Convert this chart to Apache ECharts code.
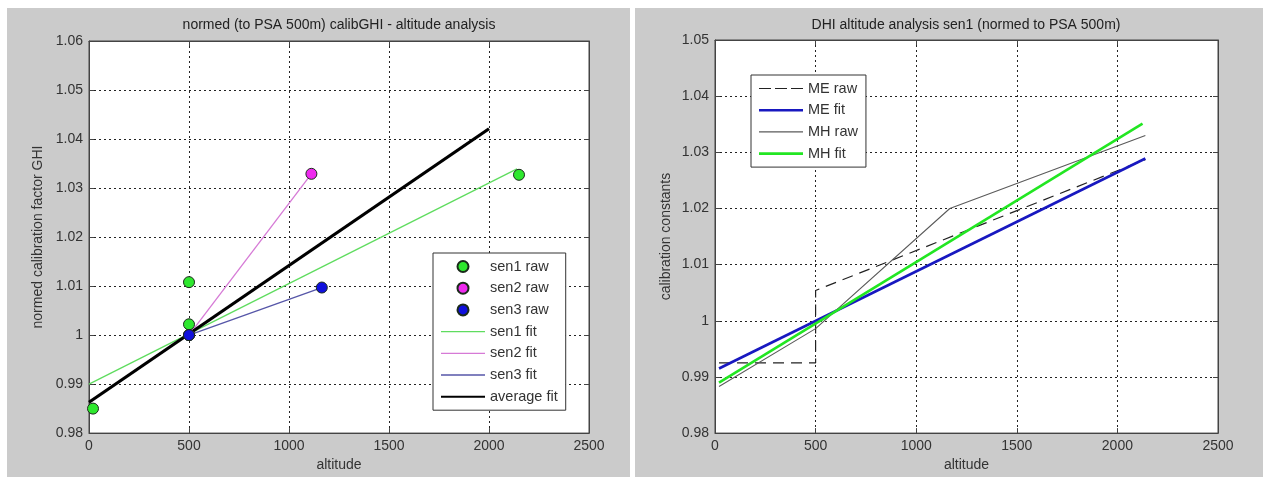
<!DOCTYPE html>
<html>
<head>
<meta charset="utf-8">
<title>altitude analysis</title>
<script src="https://cdn.jsdelivr.net/npm/echarts@6/dist/echarts.min.js"></script>
<style>
body { margin: 0; background: #fff; }
#wrap { position: relative; width: 1263px; height: 477px; }
.panel { position: absolute; background: #cbcbcb; }
#chart { position: absolute; left: 0; top: 0; width: 1263px; height: 477px; }
</style>
</head>
<body>
<div id="wrap">
  <div class="panel" style="left:7px;top:8px;width:623px;height:469px"></div>
  <div class="panel" style="left:635px;top:8px;width:628px;height:469px"></div>
  <div id="chart"></div>
</div>
<script>
var FONT = '"Liberation Sans", Arial, sans-serif';

// tick labels
var altTicks = [0, 500, 1000, 1500, 2000, 2500];
var ghiTicks = [0.98, 0.99, 1, 1.01, 1.02, 1.03, 1.04, 1.05, 1.06];
var dhiTicks = [0.98, 0.99, 1, 1.01, 1.02, 1.03, 1.04, 1.05];

// left: GHI (normed to PSA 500m)
var sen1RawAlt = [20, 500, 500, 500, 2150];
var sen1RawVal = [0.985, 1.0108, 1.0022, 1.0, 1.0327];
var sen2RawAlt = [500, 1112];
var sen2RawVal = [1.0, 1.0329];
var sen3RawAlt = [500, 1164];
var sen3RawVal = [1.0, 1.0097];
var sen1FitAlt = [0, 2140];
var sen1FitVal = [0.990, 1.0339];
var sen2FitAlt = [500, 1112];
var sen2FitVal = [1.0, 1.0329];
var sen3FitAlt = [500, 1164];
var sen3FitVal = [1.0, 1.0097];
var avgFitAlt = [0, 2000];
var avgFitVal = [0.9863, 1.0421];

// right: DHI sen1
var meRawAlt = [20, 500, 500, 2139];
var meRawVal = [0.9925, 0.9925, 1.0054, 1.0287];
var meFitAlt = [20, 2139];
var meFitVal = [0.9915, 1.0289];
var mhRawAlt = [20, 500, 1167, 2139];
var mhRawVal = [0.9883, 0.9986, 1.0200, 1.0330];
var mhFitAlt = [20, 2125];
var mhFitVal = [0.9890, 1.0351];

function zip(xs, ys) {
    var out = [];
    for (var i = 0; i < xs.length; i++) out.push([xs[i], ys[i]]);
    return out;
}

function xAxisFor(grid, pos, main) {
    return {
        type: 'value', gridIndex: grid, position: pos,
        min: altTicks[0], max: altTicks[altTicks.length - 1], interval: altTicks[1] - altTicks[0],
        name: main ? 'altitude' : '', nameLocation: 'middle', nameGap: 24,
        nameTextStyle: { fontSize: 14, color: '#333', fontFamily: FONT },
        axisLine: { show: true, onZero: false, lineStyle: { color: '#444', width: 1 } },
        axisTick: { show: true, inside: true, length: 5, lineStyle: { color: '#444' } },
        axisLabel: {
            show: main, margin: 6, fontSize: 14, color: '#333', fontFamily: FONT,
            formatter: function (v) { return String(v); }
        },
        splitLine: { show: main, lineStyle: { color: '#222', type: [2, 3], width: 1 } }
    };
}

function yAxisFor(grid, pos, main, ticks, name, gap) {
    return {
        type: 'value', gridIndex: grid, position: pos,
        min: ticks[0], max: ticks[ticks.length - 1], interval: 0.01,
        name: main ? name : '', nameLocation: 'middle', nameGap: gap,
        nameTextStyle: { fontSize: 14, color: '#333', fontFamily: FONT },
        axisLine: { show: true, onZero: false, lineStyle: { color: '#444', width: 1 } },
        axisTick: { show: true, inside: true, length: 5, lineStyle: { color: '#444' } },
        axisLabel: {
            show: main, margin: 6, fontSize: 14, color: '#333', fontFamily: FONT,
            formatter: function (v) { return String(+v.toFixed(2)); }
        },
        splitLine: { show: main, lineStyle: { color: '#222', type: [2, 3], width: 1 } }
    };
}

function raw(name, xs, ys, fill) {
    return {
        name: name, type: 'scatter', xAxisIndex: 0, yAxisIndex: 0, z: 5,
        symbol: 'circle', symbolSize: 11,
        itemStyle: { color: fill, borderColor: '#1a2a1a', borderWidth: 1, opacity: 1 },
        data: zip(xs, ys)
    };
}

function line(name, grid, xs, ys, color, width, dash) {
    return {
        name: name, type: 'line', xAxisIndex: grid * 2, yAxisIndex: grid * 2,
        symbol: 'none', showSymbol: false, animation: false,
        lineStyle: { color: color, width: width, type: dash || 'solid' },
        itemStyle: { color: color },
        data: zip(xs, ys)
    };
}

// legend glyphs for line entries: a plain stroke (or dashes) with no marker
function stroke(w) { return 'path://M0,0h44v' + w + 'h-44z'; }
var dashGlyph = 'path://M0,0h12v1.2h-12zM16,0h12v1.2h-12zM32,0h12v1.2h-12z';

var legendText = { fontSize: 14.5, color: '#333', fontFamily: FONT };

var myChart = echarts.init(document.getElementById('chart'), null, { renderer: 'canvas' });
myChart.setOption({
    backgroundColor: 'transparent',
    animation: false,
    title: [
        { text: 'normed (to PSA 500m) calibGHI - altitude analysis', left: 339, top: 18, padding: 0,
          textAlign: 'center', textStyle: { fontSize: 14, fontWeight: 'normal', color: '#222', fontFamily: FONT } },
        { text: 'DHI altitude analysis sen1 (normed to PSA 500m)', left: 966, top: 18, padding: 0,
          textAlign: 'center', textStyle: { fontSize: 14, fontWeight: 'normal', color: '#222', fontFamily: FONT } }
    ],
    grid: [
        { left: 89, top: 41, width: 500, height: 395, show: true, backgroundColor: '#fff', borderColor: '#444', borderWidth: 1 },
        { left: 715, top: 40, width: 503, height: 395, show: true, backgroundColor: '#fff', borderColor: '#444', borderWidth: 1 }
    ],
    xAxis: [
        xAxisFor(0, 'bottom', true), xAxisFor(0, 'top', false),
        xAxisFor(1, 'bottom', true), xAxisFor(1, 'top', false)
    ],
    yAxis: [
        yAxisFor(0, 'left', true, ghiTicks, 'normed calibration factor GHI', 44), yAxisFor(0, 'right', false, ghiTicks, '', 0),
        yAxisFor(1, 'left', true, dhiTicks, 'calibration constants', 42), yAxisFor(1, 'right', false, dhiTicks, '', 0)
    ],
    legend: [
        { orient: 'vertical', left: 433, top: 253, padding: [6, 8], itemGap: 6.7,
          itemWidth: 44, itemHeight: 11, selectedMode: false,
          backgroundColor: '#fff', borderColor: '#333', borderWidth: 1, textStyle: legendText,
          data: ['sen1 raw', 'sen2 raw', 'sen3 raw',
                 { name: 'sen1 fit', icon: stroke(1.3) },
                 { name: 'sen2 fit', icon: stroke(1.3) },
                 { name: 'sen3 fit', icon: stroke(1.3) },
                 { name: 'average fit', icon: stroke(2) }] },
        { orient: 'vertical', left: 751, top: 75, padding: [6, 8], itemGap: 6.7,
          itemWidth: 44, itemHeight: 13, selectedMode: false,
          backgroundColor: '#fff', borderColor: '#333', borderWidth: 1, textStyle: legendText,
          data: [{ name: 'ME raw', icon: dashGlyph },
                 { name: 'ME fit', icon: stroke(2.6) },
                 { name: 'MH raw', icon: stroke(1.1) },
                 { name: 'MH fit', icon: stroke(2.6) }] }
    ],
    series: [
        line('sen1 fit', 0, sen1FitAlt, sen1FitVal, '#5fdc5f', 1.3),
        line('sen2 fit', 0, sen2FitAlt, sen2FitVal, '#d67ad6', 1.3),
        line('sen3 fit', 0, sen3FitAlt, sen3FitVal, '#5656a8', 1.3),
        line('average fit', 0, avgFitAlt, avgFitVal, '#000', 3.2),
        raw('sen1 raw', sen1RawAlt, sen1RawVal, '#2ee82e'),
        raw('sen2 raw', sen2RawAlt, sen2RawVal, '#ee2aee'),
        raw('sen3 raw', sen3RawAlt, sen3RawVal, '#1010dd'),
        line('ME raw', 1, meRawAlt, meRawVal, '#222', 1.2, [11, 7]),
        line('ME fit', 1, meFitAlt, meFitVal, '#1818c0', 2.6),
        line('MH raw', 1, mhRawAlt, mhRawVal, '#5a5a5a', 1.1),
        line('MH fit', 1, mhFitAlt, mhFitVal, '#22e622', 2.6)
    ]
});
</script>
</body>
</html>
